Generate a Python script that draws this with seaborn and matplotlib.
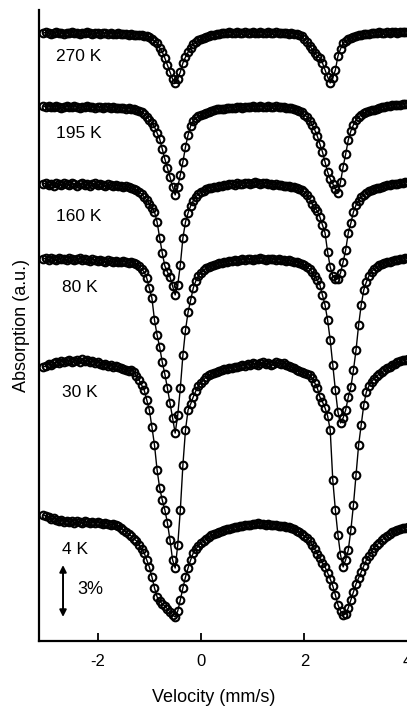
import numpy as np
import pandas as pd
import matplotlib
matplotlib.use("Agg")
import matplotlib.pyplot as plt
import seaborn as sns

# Velocity channels (mm/s)
velocity = np.round(np.arange(-3.05, 4.0001, 0.05), 2)

# Relative transmission (%) of each spectrum, one value per velocity channel
t270 = [0, 0.06, 0, -0.06, 0, 0.06, 0, 0, -0.06, 0,
        0, 0.06, 0, 0, -0.06, 0, 0, 0.06, 0, -0.06,
        0, 0, -0.06, 0, 0, -0.06, 0, -0.06, -0.06, 0,
        -0.06, -0.06, -0.06, -0.12, -0.06, -0.12, -0.12, -0.12, -0.12, -0.17,
        -0.17, -0.23, -0.35, -0.46, -0.58, -0.87, -1.10, -1.45, -1.85, -2.25,
        -2.66, -2.89, -2.66, -2.25, -1.73, -1.39, -1.10, -0.87, -0.64, -0.52,
        -0.40, -0.35, -0.29, -0.23, -0.17, -0.12, -0.12, -0.06, -0.06, 0,
        0, 0, 0.06, 0, 0, 0.06, 0, 0, 0.06, 0,
        0, 0.06, 0, 0, 0.06, 0, 0, 0.06, 0, 0,
        0.06, 0, 0, 0, 0, -0.06, 0, -0.06, -0.06, -0.12,
        -0.17, -0.35, -0.52, -0.75, -0.92, -1.16, -1.33, -1.45, -1.73, -2.14,
        -2.54, -2.89, -2.60, -2.14, -1.33, -0.92, -0.58, -0.46, -0.35, -0.29,
        -0.23, -0.17, -0.12, -0.12, -0.06, -0.06, -0.06, 0, 0, 0,
        0.06, 0, 0, 0.06, 0, 0.06, 0.06, 0, 0.06, 0.06, 0.06, 0.06]

t195 = [0.06, 0, 0.06, 0, 0, 0.06, 0, -0.06, 0, 0.06,
        0, 0, 0.06, 0, -0.06, 0, 0, 0.06, 0, 0,
        -0.06, 0, 0, -0.06, 0, 0, -0.06, 0, -0.06, -0.06,
        -0.06, -0.06, -0.12, -0.06, -0.12, -0.12, -0.17, -0.23, -0.29, -0.40,
        -0.58, -0.75, -0.92, -1.16, -1.50, -1.85, -2.43, -3.01, -3.53, -4.05,
        -4.62, -5.09, -4.62, -3.93, -3.18, -2.31, -1.62, -1.10, -0.81, -0.64,
        -0.52, -0.46, -0.40, -0.35, -0.29, -0.23, -0.17, -0.12, -0.12, -0.12,
        -0.12, -0.06, -0.06, -0.06, -0.06, 0, 0, -0.06, 0, 0,
        0, 0.06, 0, 0, 0.06, 0, 0, 0.06, 0, 0,
        0.06, 0, 0, 0, -0.06, -0.06, -0.06, -0.12, -0.17, -0.23,
        -0.29, -0.46, -0.58, -0.81, -1.04, -1.33, -1.68, -2.14, -2.60, -3.18,
        -3.76, -4.16, -4.45, -4.74, -4.97, -4.34, -3.47, -2.72, -1.91, -1.39,
        -1.04, -0.75, -0.58, -0.46, -0.35, -0.29, -0.23, -0.17, -0.17, -0.12,
        -0.06, 0, 0, 0.06, 0.06, 0.12, 0.12, 0.12, 0.12, 0.17, 0.17, 0.17]

t160 = [0.06, 0.12, 0, 0.06, -0.06, 0.12, 0.06, 0, 0.12, 0.06,
        0, 0.12, 0.06, -0.06, 0.06, 0.12, 0, 0.06, -0.06, 0.06,
        0.12, 0, 0.06, 0, -0.06, 0.06, 0, -0.06, 0, -0.06,
        -0.06, -0.12, -0.06, -0.12, -0.17, -0.23, -0.29, -0.40, -0.52, -0.69,
        -0.87, -1.10, -1.33, -1.56, -2.14, -3.06, -3.93, -4.68, -5.03, -5.32,
        -5.84, -6.36, -5.78, -4.62, -3.06, -2.14, -1.62, -1.21, -0.92, -0.69,
        -0.52, -0.40, -0.35, -0.23, -0.17, -0.17, -0.12, -0.12, -0.06, -0.06,
        0, 0, 0.06, 0.06, 0, 0.12, 0.06, 0.06, 0.12, 0.12,
        0.06, 0.12, 0.17, 0.12, 0.06, 0.12, 0.12, 0.06, 0.06, 0,
        0.06, 0, 0, -0.06, -0.06, -0.06, -0.12, -0.12, -0.17, -0.23,
        -0.29, -0.40, -0.58, -0.81, -1.10, -1.33, -1.50, -1.85, -2.31, -2.77,
        -3.87, -4.74, -5.26, -5.43, -5.43, -5.09, -4.45, -3.76, -2.77, -2.20,
        -1.56, -1.16, -0.92, -0.69, -0.58, -0.46, -0.35, -0.29, -0.23, -0.17,
        -0.17, -0.12, -0.06, 0, 0, 0.06, 0.06, 0.06, 0.12, 0.12, 0.17, 0.17]

t80 = [0.06, 0.12, 0, 0.12, 0.06, 0, 0.12, 0.06, 0.06, 0,
       0.12, 0.06, 0, 0.06, 0.12, 0, 0.06, 0, -0.06, 0.06,
       0, -0.06, 0, -0.06, -0.12, 0, -0.06, -0.12, -0.06, -0.12,
       -0.12, -0.06, -0.12, -0.17, -0.12, -0.17, -0.23, -0.35, -0.52, -0.69,
       -1.04, -1.62, -2.20, -3.47, -4.34, -5.03, -5.90, -6.59, -7.40, -8.27,
       -9.13, -10.00, -8.96, -7.40, -5.49, -4.05, -3.01, -2.31, -1.62, -1.21,
       -0.92, -0.75, -0.58, -0.46, -0.40, -0.35, -0.29, -0.23, -0.17, -0.17,
       -0.12, -0.12, -0.06, -0.06, 0, -0.06, 0, 0.06, 0, 0.06,
       0.06, 0, 0.06, 0.06, 0.12, 0.06, 0, 0.06, 0.06, 0.06,
       0, 0.06, 0, 0, -0.06, 0, -0.06, -0.12, -0.12, -0.17,
       -0.23, -0.29, -0.40, -0.52, -0.69, -0.92, -1.16, -1.45, -2.02, -2.60,
       -3.47, -4.62, -6.07, -7.51, -8.79, -9.42, -9.13, -8.67, -7.92, -7.34,
       -6.36, -5.20, -3.76, -2.60, -1.73, -1.27, -0.92, -0.69, -0.52, -0.40,
       -0.29, -0.23, -0.17, -0.12, -0.12, -0.06, 0, 0, 0.06, 0.06, 0.12, 0.12]

t30 = [-0.06, 0, 0.12, 0.06, 0.17, 0.23, 0.17, 0.29, 0.23, 0.29,
       0.35, 0.23, 0.29, 0.35, 0.23, 0.40, 0.29, 0.35, 0.23, 0.29,
       0.17, 0.23, 0.12, 0.06, 0.12, 0, 0.06, -0.06, 0, -0.06,
       -0.12, -0.17, -0.23, -0.29, -0.23, -0.35, -0.58, -0.81, -1.10, -1.39,
       -1.97, -2.54, -3.53, -4.57, -6.01, -7.05, -7.75, -8.32, -9.07, -10.06,
       -11.21, -11.68, -10.35, -8.32, -5.72, -3.70, -2.54, -2.20, -1.79, -1.45,
       -1.16, -0.98, -0.81, -0.64, -0.52, -0.46, -0.40, -0.35, -0.29, -0.23,
       -0.17, -0.17, -0.12, -0.12, -0.06, -0.06, 0, 0.06, 0, 0.12,
       0.06, 0.17, 0.12, 0.06, 0.17, 0.23, 0.12, 0.17, 0.06, 0.12,
       0.23, 0.17, 0.12, 0.17, 0.06, 0, -0.06, -0.12, -0.23, -0.29,
       -0.35, -0.40, -0.46, -0.52, -0.69, -0.98, -1.27, -1.79, -2.08, -2.43,
       -2.89, -3.70, -6.59, -8.32, -9.77, -10.92, -11.62, -11.21, -10.64, -9.48,
       -8.03, -6.30, -4.57, -3.41, -2.25, -1.50, -1.16, -0.92, -0.75, -0.58,
       -0.46, -0.35, -0.23, -0.12, -0.06, 0.06, 0.12, 0.23, 0.29, 0.35, 0.35, 0.40]

t4 = [0.58, 0.52, 0.46, 0.35, 0.40, 0.29, 0.23, 0.29, 0.17, 0.23,
      0.17, 0.23, 0.12, 0.23, 0.17, 0.12, 0.23, 0.17, 0.12, 0.17,
      0.12, 0.17, 0.12, 0.06, 0.12, 0.06, 0, 0.06, 0, -0.06,
      -0.17, -0.29, -0.40, -0.52, -0.64, -0.81, -0.92, -1.16, -1.39, -1.62,
      -2.02, -2.43, -3.01, -3.64, -4.16, -4.39, -4.57, -4.68, -4.86, -5.03,
      -5.20, -5.32, -4.97, -4.34, -3.64, -3.01, -2.49, -2.02, -1.62, -1.39,
      -1.21, -1.04, -0.92, -0.81, -0.69, -0.58, -0.52, -0.46, -0.40, -0.35,
      -0.29, -0.23, -0.23, -0.17, -0.12, -0.12, -0.06, -0.06, 0, 0,
      0, 0.06, 0.06, 0.12, 0.06, 0.06, 0, 0.06, 0, 0,
      0, -0.06, -0.06, -0.06, -0.12, -0.12, -0.17, -0.23, -0.35, -0.40,
      -0.52, -0.64, -0.75, -0.92, -1.16, -1.39, -1.68, -1.91, -2.20, -2.43,
      -2.77, -3.12, -3.53, -4.05, -4.62, -4.97, -5.20, -5.14, -4.80, -4.34,
      -3.87, -3.41, -3.06, -2.72, -2.37, -2.02, -1.79, -1.56, -1.33, -1.16,
      -1.04, -0.87, -0.75, -0.64, -0.52, -0.40, -0.35, -0.29, -0.23, -0.17, -0.17, -0.12]

temperatures = ["270 K", "195 K", "160 K", "80 K", "30 K", "4 K"]
spectra = [t270, t195, t160, t80, t30, t4]
scale_pct = 3.0

# Vertical stacking of the spectra and label placement (data units)
baselines = [35.14, 30.87, 26.36, 22.02, 15.90, 6.71]
label_x = [-2.81, -2.81, -2.81, -2.69, -2.69, -2.69]
label_y = [33.76, 29.36, 24.51, 20.46, 14.34, 5.26]

sns.set_style("ticks")
plt.rcParams["font.family"] = ["Liberation Sans", "DejaVu Sans"]
plt.rcParams["axes.unicode_minus"] = False
for key in ("text.color", "axes.labelcolor", "xtick.color", "ytick.color", "axes.edgecolor"):
    plt.rcParams[key] = "black"

frames = []
for name, spec, base in zip(temperatures, spectra, baselines):
    assert len(spec) == len(velocity)
    frames.append(pd.DataFrame({"velocity": velocity,
                                "signal": np.asarray(spec) + base,
                                "temperature": name}))
df = pd.concat(frames, ignore_index=True)

fig = plt.figure(figsize=(4.07, 7.09), dpi=100)
ax = fig.add_axes([0.0958, 0.0959, 0.9123, 0.8900])

sns.lineplot(data=df, x="velocity", y="signal", units="temperature",
             estimator=None, sort=False, color="black", linewidth=1.0,
             marker="o", markersize=5.5, markerfacecolor="none",
             markeredgecolor="black", markeredgewidth=1.5,
             legend=False, ax=ax)

for name, lx, ly in zip(temperatures, label_x, label_y):
    ax.text(lx, ly, name, ha="left", va="center", fontsize=12.5)

# 3 % scale bar
arrow_x, arrow_bottom = -2.67, 1.39
ax.annotate("", xy=(arrow_x, arrow_bottom), xytext=(arrow_x, arrow_bottom + scale_pct),
            arrowprops=dict(arrowstyle="<|-|>", color="black", lw=1.4,
                            shrinkA=0, shrinkB=0, mutation_scale=10))
ax.text(-2.40, arrow_bottom + scale_pct / 2 + 0.1, f"{scale_pct:.0f}%",
        ha="left", va="center", fontsize=13)

ax.set_xlim(-3.135, 4.05)
ax.set_ylim(0, 36.47)
ax.set_xticks([-2, 0, 2, 4])
ax.set_yticks([])
ax.tick_params(axis="x", direction="in", length=6, width=1.3, labelsize=12, pad=9)
for side in ("top", "right"):
    ax.spines[side].set_visible(False)
for side in ("left", "bottom"):
    ax.spines[side].set_linewidth(1.6)

ax.set_xlabel("Velocity (mm/s)", fontsize=13)
ax.xaxis.label.set_va("center")
ax.xaxis.set_label_coords(0.47, -0.0903)
ax.set_ylabel("Absorption (a.u.)", fontsize=13)
ax.yaxis.label.set_va("center")
ax.yaxis.set_label_coords(-0.0458, 0.5)

fig.savefig("out.png", dpi=100)
